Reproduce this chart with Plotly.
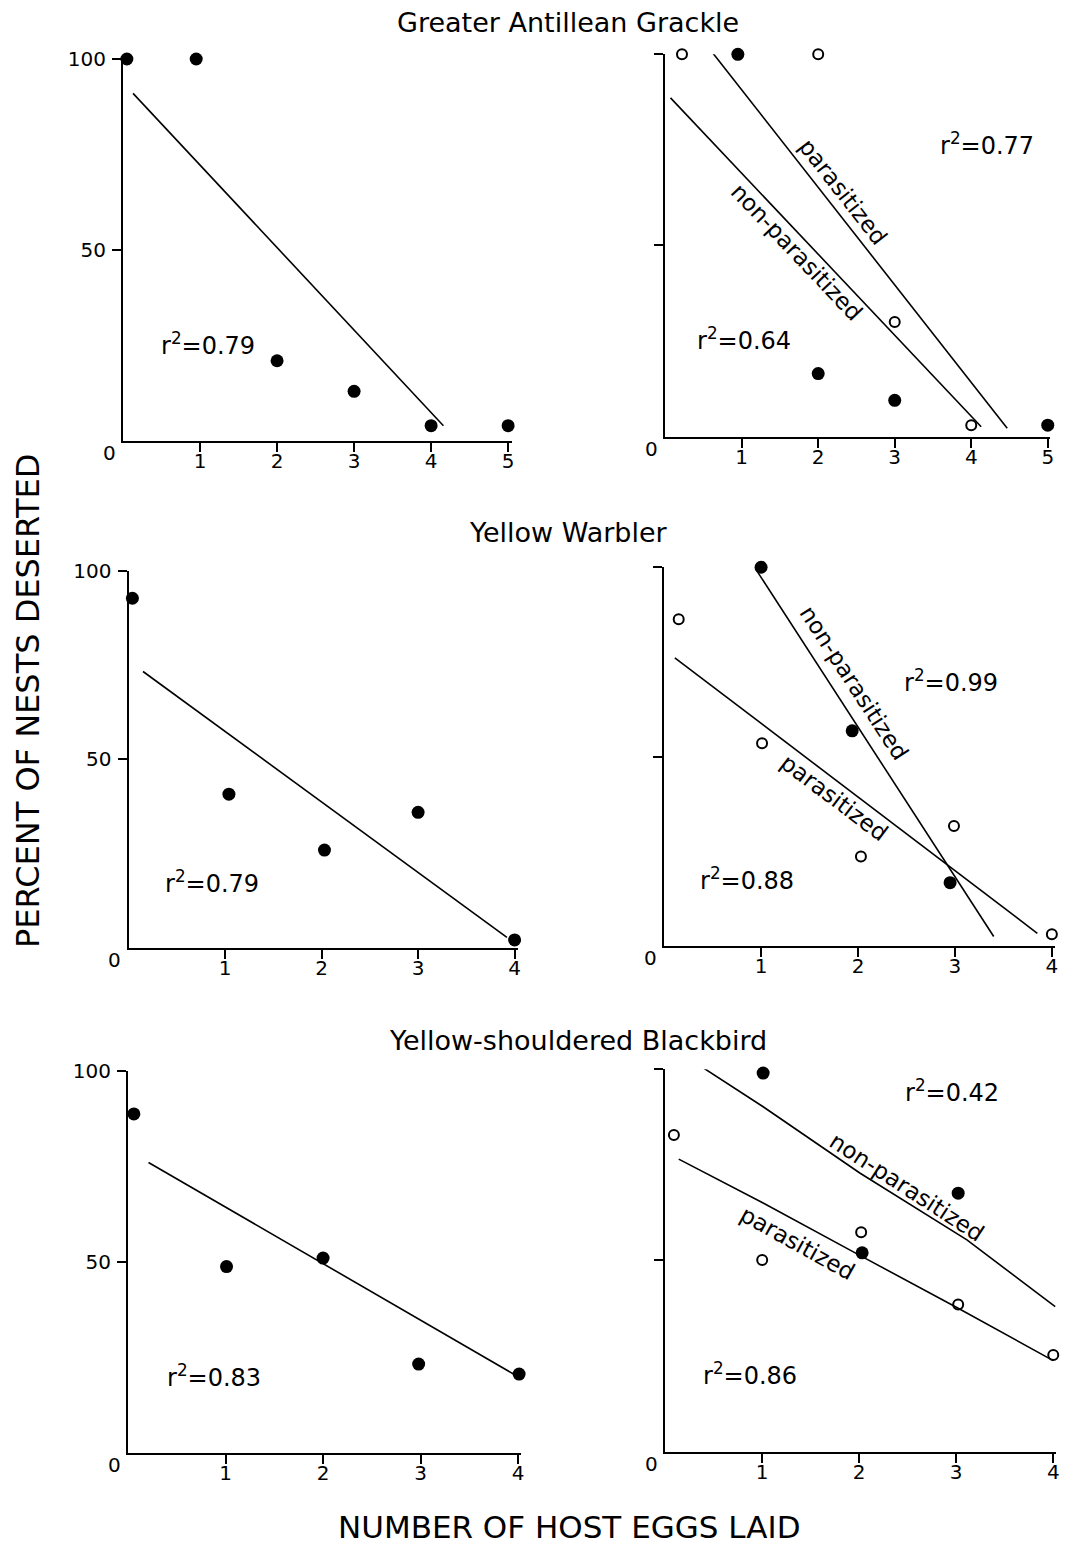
import plotly.graph_objects as go

W, H = 1065, 1549
# observed placement of the figure in the captured picture: shown = TOP + K * figure_px
TOP, KY, KX = 12.0, 0.9923, 0.996
FONT = "DejaVu Sans"

# ---------------- data ----------------
species = ["Greater Antillean Grackle", "Yellow Warbler", "Yellow-shouldered Blackbird"]
x_title = "NUMBER OF HOST EGGS LAID"
y_title = "PERCENT OF NESTS DESERTED"

# Greater Antillean Grackle - all nests
gag_all_x = [0.05, 0.95, 2, 3, 4, 5]
gag_all_y = [100, 100, 21, 13, 4, 4]
gag_all_fit_x = [0.13, 4.16]
gag_all_fit_y = [91, 4]
gag_all_r2 = "0.79"
# Greater Antillean Grackle - parasitized (open) / non-parasitized (filled)
gag_par_x = [0.22, 2, 3, 4]
gag_par_y = [100, 100, 30, 3]
gag_non_x = [0.95, 2, 3, 5]
gag_non_y = [100, 16.5, 9.5, 3]
gag_par_fit_x = [0.62, 4.47]
gag_par_fit_y = [100.4, 2.2]
gag_non_fit_x = [0.07, 4.13]
gag_non_fit_y = [88.6, 2.6]
gag_par_r2 = "0.77"
gag_non_r2 = "0.64"

# Yellow Warbler - all nests
yw_all_x = [0.04, 1.04, 2.03, 3, 4]
yw_all_y = [92.7, 40.8, 26, 36, 2.2]
yw_all_fit_x = [0.15, 3.92]
yw_all_fit_y = [73.3, 2.9]
yw_all_r2 = "0.79"
# Yellow Warbler - split
yw_par_x = [0.15, 1.01, 2.03, 2.99, 4.0]
yw_par_y = [86.3, 53.5, 23.6, 31.7, 3.1]
yw_non_x = [1.0, 1.94, 2.95]
yw_non_y = [100, 56.8, 16.7]
yw_non_fit_x = [0.94, 3.40]
yw_non_fit_y = [99.7, 2.5]
yw_par_fit_x = [0.11, 3.85]
yw_par_fit_y = [76.1, 3.35]
yw_non_r2 = "0.99"
yw_par_r2 = "0.88"

# Yellow-shouldered Blackbird - all nests
ysb_all_x = [0.06, 1.01, 2, 2.98, 4.01]
ysb_all_y = [88.7, 48.8, 51, 23.3, 20.7]
ysb_all_fit_x = [0.21, 4.0]
ysb_all_fit_y = [76, 20]
ysb_all_r2 = "0.83"
# Yellow-shouldered Blackbird - split
ysb_par_x = [0.09, 1.0, 2.02, 3.02, 4.0]
ysb_par_y = [82.8, 50.1, 57.4, 38.5, 25.3]
ysb_non_x = [1.01, 2.03, 3.02]
ysb_non_y = [99, 52, 67.6]
ysb_non_fit_x = [0.36, 1.01, 2.01, 3.11, 4.02]
ysb_non_fit_y = [100.9, 90.2, 72.8, 55.4, 37.9]
ysb_par_fit_x = [0.14, 1.01, 2.03, 3.02, 4.0]
ysb_par_fit_y = [76.5, 65, 51, 37.5, 23.8]
ysb_non_r2 = "0.42"
ysb_par_r2 = "0.86"

ticks5 = [1, 2, 3, 4, 5]
ticks4 = [1, 2, 3, 4]
yticks = [50, 100]

# ---------------- layout geometry (target pixels) ----------------
panels = [
    dict(x0=123, ux=77.0, xmax=5.05, ybot=441.0, ytop=59.0, xt=ticks5, ylab=True),
    dict(x0=665, ux=76.5, xmax=5.03, ybot=436.7, ytop=54.3, xt=ticks5, ylab=False),
    dict(x0=128.5, ux=96.5, xmax=4.03, ybot=948.3, ytop=570.7, xt=ticks4, ylab=True),
    dict(x0=664, ux=96.9, xmax=4.03, ybot=946.0, ytop=567.3, xt=ticks4, ylab=False),
    dict(x0=128, ux=97.5, xmax=4.03, ybot=1453.3, ytop=1070.7, xt=ticks4, ylab=True),
    dict(x0=665, ux=97.0, xmax=4.03, ybot=1451.7, ytop=1069.3, xt=ticks4, ylab=False),
]

def px(v):
    return (v / KX) / W

def py(v):
    return 1 - ((v - TOP) / KY) / H

fig = go.Figure()
layout = dict(
    width=W, height=H, margin=dict(l=0, r=0, t=0, b=0, pad=0),
    paper_bgcolor="white", plot_bgcolor="white", showlegend=False,
    font=dict(family=FONT, color="black"),
)

for i, p in enumerate(panels, start=1):
    xa = dict(
        domain=[px(p["x0"]), px(p["x0"] + p["xmax"] * p["ux"])],
        range=[0, p["xmax"]], anchor=f"y{i}",
        showline=True, linecolor="black", linewidth=2,
        ticks="outside", ticklen=9, tickwidth=1.6, tickcolor="black",
        tickvals=p["xt"], ticktext=[str(v) for v in p["xt"]],
        ticklabelstandoff=-8,
        tickfont=dict(family=FONT, size=20, color="black"),
        showgrid=False, zeroline=False, fixedrange=True,
    )
    ya = dict(
        domain=[py(p["ybot"]), py(p["ytop"])],
        range=[0, 100], anchor=f"x{i}",
        showline=True, linecolor="black", linewidth=2,
        ticks="outside", ticklen=9, tickwidth=1.6, tickcolor="black",
        tickvals=yticks, showticklabels=p["ylab"],
        ticktext=[str(v) for v in yticks],
        ticklabelstandoff=2,
        tickfont=dict(family=FONT, size=20, color="black"),
        showgrid=False, zeroline=False, fixedrange=True,
    )
    layout["xaxis" if i == 1 else f"xaxis{i}"] = xa
    layout["yaxis" if i == 1 else f"yaxis{i}"] = ya

def ax(i):
    return ("x" if i == 1 else f"x{i}"), ("y" if i == 1 else f"y{i}")

LINE = dict(color="black", width=1.6)
FILLED = dict(symbol="circle", size=13, color="black")
OPEN = dict(symbol="circle-open", size=10, color="black", line=dict(width=2, color="black"))

def add_line(i, xs, ys):
    xr, yr = ax(i)
    fig.add_trace(go.Scatter(x=xs, y=ys, mode="lines", line=LINE, xaxis=xr, yaxis=yr,
                             cliponaxis=False, hoverinfo="skip"))

def add_pts(i, xs, ys, marker):
    xr, yr = ax(i)
    fig.add_trace(go.Scatter(x=xs, y=ys, mode="markers", marker=marker, xaxis=xr, yaxis=yr,
                             cliponaxis=False))

add_line(1, gag_all_fit_x, gag_all_fit_y)
add_pts(1, gag_all_x, gag_all_y, FILLED)
add_line(2, gag_par_fit_x, gag_par_fit_y)
add_line(2, gag_non_fit_x, gag_non_fit_y)
add_pts(2, gag_non_x, gag_non_y, FILLED)
add_pts(2, gag_par_x, gag_par_y, OPEN)
add_line(3, yw_all_fit_x, yw_all_fit_y)
add_pts(3, yw_all_x, yw_all_y, FILLED)
add_line(4, yw_non_fit_x, yw_non_fit_y)
add_line(4, yw_par_fit_x, yw_par_fit_y)
add_pts(4, yw_non_x, yw_non_y, FILLED)
add_pts(4, yw_par_x, yw_par_y, OPEN)
add_line(5, ysb_all_fit_x, ysb_all_fit_y)
add_pts(5, ysb_all_x, ysb_all_y, FILLED)
add_line(6, ysb_non_fit_x, ysb_non_fit_y)
add_line(6, ysb_par_fit_x, ysb_par_fit_y)
add_pts(6, ysb_non_x, ysb_non_y, FILLED)
add_pts(6, ysb_par_x, ysb_par_y, OPEN)

ann = []

def r2(i, x, y, val):
    xr, yr = ax(i)
    ann.append(dict(x=x, y=y, xref=xr, yref=yr, text="r<sup>2</sup>=" + val,
                    showarrow=False, font=dict(family=FONT, size=24, color="black"),
                    xanchor="center", yanchor="middle"))

def lab(i, x, y, text, angle):
    xr, yr = ax(i)
    ann.append(dict(x=x, y=y, xref=xr, yref=yr, text=text, textangle=angle,
                    showarrow=False, font=dict(family=FONT, size=23, color="black"),
                    xanchor="center", yanchor="middle"))

r2(1, 1.1, 25.5, gag_all_r2)
r2(2, 4.2, 76.5, gag_par_r2)
r2(2, 1.03, 25.5, gag_non_r2)
lab(2, 2.33, 64.1, "parasitized", 52)
lab(2, 1.72, 48.4, "non-parasitized", 46.5)

r2(3, 0.86, 17.5, yw_all_r2)
r2(4, 2.96, 70.0, yw_non_r2)
r2(4, 0.85, 17.8, yw_par_r2)
lab(4, 1.96, 69.5, "non-parasitized", 57)
lab(4, 1.76, 39.2, "parasitized", 37)

r2(5, 0.88, 20.3, ysb_all_r2)
r2(6, 2.96, 94.3, ysb_non_r2)
r2(6, 0.87, 20.4, ysb_par_r2)
lab(6, 2.49, 69.3, "non-parasitized", 33)
lab(6, 1.36, 54.5, "parasitized", 29)

for i in range(1, 7):
    xr, yr = ax(i)
    ann.append(dict(x=0, y=0, xref=xr, yref=yr, text="0", showarrow=False,
                    xshift=-14, yshift=-12, xanchor="center", yanchor="middle",
                    font=dict(family=FONT, size=20, color="black")))

title_pos = [(568, 23), (568, 533), (578, 1041)]
for name, (tx, ty) in zip(species, title_pos):
    ann.append(dict(x=px(tx), y=py(ty), xref="paper", yref="paper", text=name,
                    showarrow=False, xanchor="center", yanchor="middle",
                    font=dict(family=FONT, size=27, color="black")))

ann.append(dict(x=px(28), y=py(701), xref="paper", yref="paper", text=y_title,
                textangle=-90, showarrow=False, xanchor="center", yanchor="middle",
                font=dict(family=FONT, size=32, color="black")))
ann.append(dict(x=px(569), y=py(1527), xref="paper", yref="paper", text=x_title,
                showarrow=False, xanchor="center", yanchor="middle",
                font=dict(family=FONT, size=31, color="black")))

layout["annotations"] = ann
fig.update_layout(**layout)

fig.write_html("out.html", config={"displayModeBar": False},
               post_script="document.body.style.margin='0';")
